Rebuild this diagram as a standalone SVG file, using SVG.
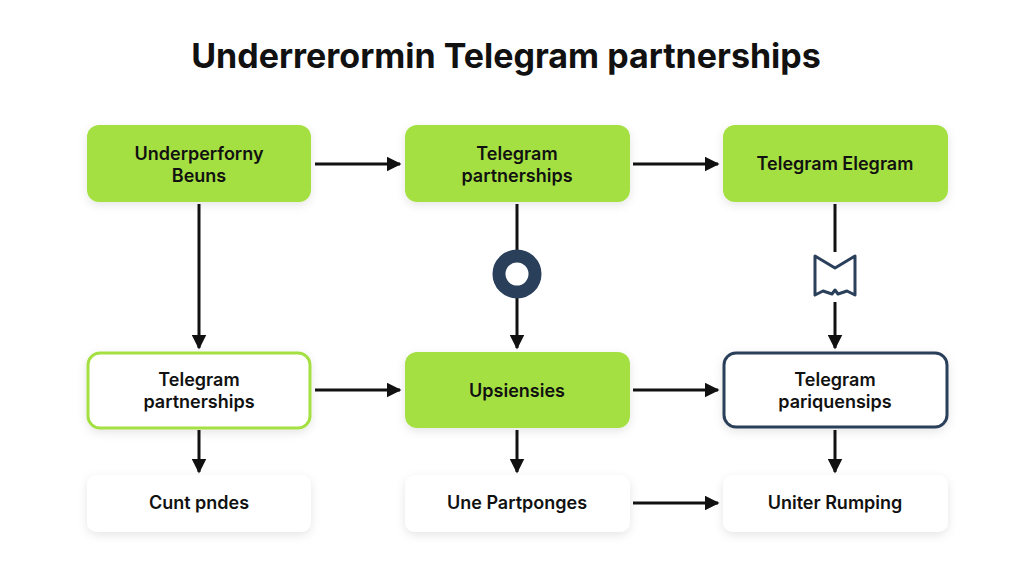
<svg xmlns="http://www.w3.org/2000/svg" width="1024" height="585" viewBox="0 0 1024 585">
<defs>
<marker id="ah" viewBox="0 0 10 10" refX="9" refY="5" markerWidth="5" markerHeight="5" orient="auto"><path d="M0,0 L10,5 L0,10 z" fill="#111"/></marker>
<filter id="sh" x="-20%" y="-30%" width="140%" height="160%"><feDropShadow dx="0" dy="3" stdDeviation="5" flood-color="#000" flood-opacity="0.1"/></filter>
</defs>
<style>
text{font-family:"Inter","Liberation Sans",sans-serif;font-weight:600;fill:#111;text-anchor:middle}
.t{font-size:18px}
.g{fill:#a5e043;filter:url(#sh)}
.o{fill:#fff;stroke:#a5e043;stroke-width:3;filter:url(#sh)}
.n{fill:#fff;stroke:#2a3f5a;stroke-width:3;filter:url(#sh)}
.w{fill:#fff;filter:url(#sh)}
.c{stroke:#111;stroke-width:3;fill:none;marker-end:url(#ah)}
</style>
<rect width="1024" height="585" fill="#fff"/>
<text x="506" y="68" style="font-size:34px;font-weight:700">Underrerormin Telegram partnerships</text>
<g id="n1"><rect class="g" x="87" y="125" width="224" height="77" rx="12"/><text class="t" x="199" y="160">Underperforny</text><text class="t" x="199" y="182">Beuns</text></g>
<g id="n2"><rect class="g" x="405" y="125" width="225" height="77" rx="12"/><text class="t" x="517" y="160">Telegram</text><text class="t" x="517" y="182">partnerships</text></g>
<g id="n3"><rect class="g" x="723" y="125" width="225" height="77" rx="12"/><text class="t" x="835" y="170">Telegram Elegram</text></g>
<g id="n4"><rect class="o" x="88" y="353" width="222" height="75" rx="12"/><text class="t" x="199" y="386">Telegram</text><text class="t" x="199" y="408">partnerships</text></g>
<g id="n5"><rect class="g" x="405" y="352" width="225" height="76" rx="12"/><text class="t" x="517" y="397">Upsiensies</text></g>
<g id="n6"><rect class="n" x="724" y="353" width="223" height="74" rx="12"/><text class="t" x="835" y="386">Telegram</text><text class="t" x="835" y="408">pariquensips</text></g>
<g id="n7"><rect class="w" x="87" y="475" width="224" height="57" rx="10"/><text class="t" x="199" y="509">Cunt pndes</text></g>
<g id="n8"><rect class="w" x="405" y="475" width="225" height="57" rx="10"/><text class="t" x="517" y="509">Une Partponges</text></g>
<g id="n9"><rect class="w" x="723" y="475" width="225" height="57" rx="10"/><text class="t" x="835" y="509">Uniter Rumping</text></g>
<g id="connectors">
<path class="c" d="M315,164 H400"/>
<path class="c" d="M633,164 H718"/>
<path class="c" d="M315,390 H400"/>
<path class="c" d="M633,390 H718"/>
<path class="c" d="M633,503 H718"/>
<path class="c" d="M199,204 V348"/>
<path class="c" d="M517,204 V348"/>
<path class="c" d="M835,204 V348"/>
<path class="c" d="M199,430 V472"/>
<path class="c" d="M517,430 V472"/>
<path class="c" d="M835,430 V472"/>
</g>
<g id="icons">
<circle cx="517" cy="274" r="18" fill="#fff" stroke="#2a3f5a" stroke-width="13"/>
<rect x="812" y="252" width="46" height="50" fill="#fff"/>
<path d="M815,256 L835,268 L855,256 V295 L847,291 L838,294 L835,290 L832,294 L823,291 L815,295 Z" fill="#fff" stroke="#2a3f5a" stroke-width="3" stroke-linejoin="round"/>
</g>
</svg>
